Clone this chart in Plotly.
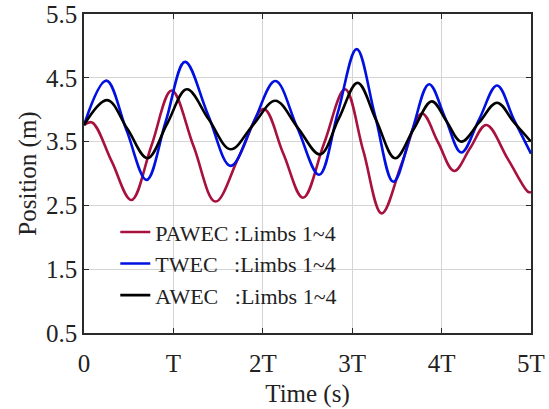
import plotly.graph_objects as go

# time in units of the period T
t_pawec = [0, 0.09, 0.31, 0.53, 0.755, 0.98, 1.225, 1.47, 1.74, 2.01, 2.23, 2.45, 2.685, 2.92,
           3.125, 3.33, 3.555, 3.78, 3.96, 4.14, 4.32, 4.50, 4.74, 4.97, 5.0]
y_pawec = [3.76, 3.80, 3.19, 2.585, 3.44, 4.30, 3.43, 2.56, 3.285, 4.01, 3.31, 2.62, 3.47, 4.32,
           3.35, 2.375, 3.16, 3.94, 3.49, 3.04, 3.40, 3.76, 3.23, 2.71, 2.71]

t_twec = [0, 0.25, 0.475, 0.70, 0.915, 1.13, 1.385, 1.64, 1.89, 2.14, 2.385, 2.63, 2.84, 3.05,
          3.255, 3.46, 3.66, 3.86, 4.04, 4.22, 4.42, 4.62, 4.81, 5.0]
y_twec = [3.76, 4.455, 3.68, 2.90, 3.82, 4.75, 3.93, 3.12, 3.78, 4.45, 3.72, 2.98, 3.96, 4.95,
          3.91, 2.87, 3.63, 4.40, 3.87, 3.33, 3.85, 4.38, 3.84, 3.31]

t_awec = [0, 0.26, 0.485, 0.71, 0.93, 1.15, 1.395, 1.64, 1.89, 2.14, 2.39, 2.64, 2.85, 3.06,
          3.27, 3.48, 3.685, 3.89, 4.055, 4.22, 4.42, 4.62, 4.81, 5.0]
y_awec = [3.76, 4.15, 3.70, 3.24, 3.78, 4.32, 3.85, 3.38, 3.76, 4.14, 3.72, 3.30, 3.86, 4.42,
          3.83, 3.24, 3.69, 4.13, 3.82, 3.50, 3.80, 4.11, 3.80, 3.50]

x_tickvals = [0, 1, 2, 3, 4, 5]
x_ticktext = ["0", "T", "2T", "3T", "4T", "5T"]
y_tickvals = [0.5, 1.5, 2.5, 3.5, 4.5, 5.5]

names = ["PAWEC\u00a0:Limbs 1~4", "TWEC\u00a0\u00a0\u00a0:Limbs 1~4", "AWEC\u00a0\u00a0\u00a0:Limbs 1~4"]
colors = ["#A8103E", "#0010E0", "#000000"]

FONT = "Liberation Serif, Times New Roman, serif"

fig = go.Figure()
for t, y, n, c in [(t_pawec, y_pawec, names[0], colors[0]),
                   (t_twec, y_twec, names[1], colors[1]),
                   (t_awec, y_awec, names[2], colors[2])]:
    fig.add_trace(go.Scatter(x=t, y=y, mode="lines", name=n,
                             line=dict(color=c, width=2.6, shape="spline", smoothing=1.05)))

axis_common = dict(showline=True, linecolor="#2a2a2a", linewidth=1.6, mirror="ticks",
                   ticks="inside", ticklen=5, tickcolor="#2a2a2a", tickwidth=1.2,
                   showgrid=True, gridcolor="#d4d4d4", gridwidth=1, zeroline=False,
                   automargin=False,
                   tickfont=dict(family=FONT, size=25, color="#222222"))

fig.update_layout(
    width=549, height=409,
    margin=dict(l=84, r=18, t=14, b=76),
    paper_bgcolor="white", plot_bgcolor="white",
    font=dict(family=FONT, color="#222222"),
    xaxis=dict(range=[0, 5], tickvals=x_tickvals, ticktext=x_ticktext,
               ticklabelstandoff=7,
               title=dict(text="Time (s)", font=dict(family=FONT, size=25), standoff=9),
               **axis_common),
    yaxis=dict(range=[0.5, 5.5], tickvals=y_tickvals,
               title=dict(text="Position (m)", font=dict(family=FONT, size=25), standoff=2),
               **axis_common),
    legend=dict(x=0.07, y=0.382, xanchor="left", yanchor="top",
                bgcolor="rgba(0,0,0,0)", borderwidth=0,
                font=dict(family=FONT, size=22, color="#222222"),
                tracegroupgap=0, itemwidth=30),
    showlegend=True,
)

fig.write_html("out.html")
